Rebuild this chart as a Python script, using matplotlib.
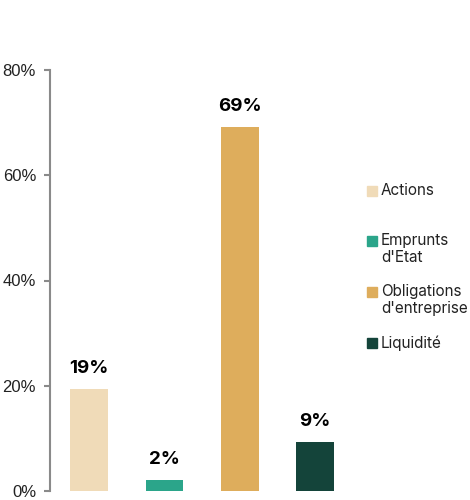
import matplotlib.pyplot as plt

# data
categories = ['Actions', "Emprunts\nd'Etat", "Obligations\nd'entreprise", 'Liquidité']
values = [19.4, 2.1, 69.2, 9.3]
labels = ['19%', '2%', '69%', '9%']
colors = ['#F0DBB8', '#2BA58A', '#DEAD5C', '#14443A']
yticks = [0, 20, 40, 60, 80]
ytick_labels = ['0%', '20%', '40%', '60%', '80%']

plt.rcParams['font.family'] = ['Inter', 'DejaVu Sans']

fig = plt.figure(figsize=(4.7, 5), dpi=100)
ax = fig.add_axes([0.1064, 0.018, 0.617, 0.842])

x = list(range(len(values)))
bars = ax.bar(x, values, width=0.5, color=colors)

# value labels above the bars
for xi, v, lab in zip(x, values, labels):
    ax.annotate(lab, (xi, v), xytext=(0, 8.5), textcoords='offset points',
                ha='center', va='bottom', fontsize=13.5, fontweight='bold')

ax.set_xlim(-0.52, 3.33)
ax.set_ylim(0, 80)
ax.set_yticks(yticks)
ax.set_yticklabels(ytick_labels, fontsize=12, family='Liberation Sans')
ax.set_xticks([])

for s in ['top', 'right', 'bottom']:
    ax.spines[s].set_visible(False)
ax.spines['left'].set_color('#8a8a8a')
ax.spines['left'].set_linewidth(1.5)
ax.tick_params(axis='y', color='#8a8a8a', width=1.5, length=4, pad=6, labelcolor='#222222')

# legend drawn by hand so the marker sits on the first line of text
leg_y = [0.7126, 0.594, 0.473, 0.3515]
line_step = 0.0404
for cat, col, yy in zip(categories, colors, leg_y):
    ax.plot([1.110], [yy], marker='s', markersize=6.5, color=col,
            transform=ax.transAxes, clip_on=False)
    for i, part in enumerate(cat.split('\n')):
        ax.text(1.141, yy - i * line_step, part, transform=ax.transAxes,
                fontsize=11, va='center', ha='left', color='#222222')

fig.savefig('out.png', dpi=100)
